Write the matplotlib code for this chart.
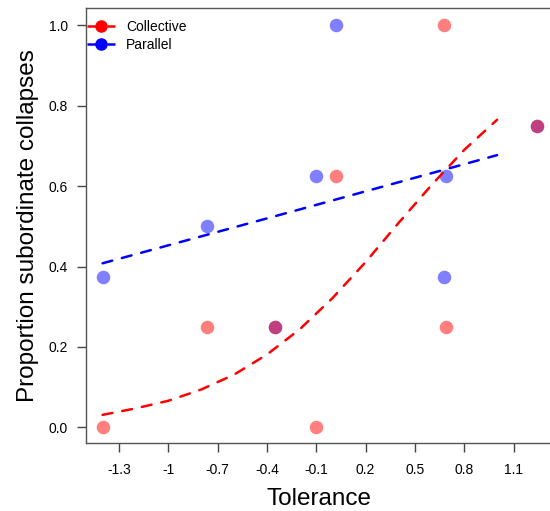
import numpy as np
import matplotlib
matplotlib.use('Agg')
import matplotlib.pyplot as plt
from matplotlib.lines import Line2D

plt.rcParams['font.family'] = ['Liberation Sans', 'DejaVu Sans']

# Observed proportions per tolerance value
tolerance = [-1.397, -0.765, -0.354, -0.100, 0.018, 0.677, 0.689, 1.243]
collective = [0.0, 0.25, 0.25, 0.0, 0.625, 1.0, 0.25, 0.75]
parallel = [0.375, 0.5, 0.25, 0.625, 1.0, 0.375, 0.625, 0.75]

# Fitted curves
fit_x_coll = [-1.40, -1.20, -1.00, -0.80, -0.60, -0.40, -0.20, 0.00, 0.20, 0.40, 0.60, 0.80, 1.00]
fit_y_coll = [0.031, 0.047, 0.066, 0.094, 0.131, 0.181, 0.244, 0.322, 0.411, 0.508, 0.602, 0.690, 0.765]
fit_x_par = [-1.40, -0.20, 1.00]
fit_y_par = [0.408, 0.542, 0.677]

xticks = [-1.3, -1, -0.7, -0.4, -0.1, 0.2, 0.5, 0.8, 1.1]
xtick_labels = ['-1.3', '-1', '-0.7', '-0.4', '-0.1', '0.2', '0.5', '0.8', '1.1']
yticks = [0.0, 0.2, 0.4, 0.6, 0.8, 1.0]

fig = plt.figure(figsize=(5.5, 5.11), dpi=100)
ax = fig.add_axes([86/550, 68/511, 466/550, 435/511])

ax.scatter(tolerance, parallel, s=95, color='blue', alpha=0.5, linewidths=0, zorder=3)
ax.scatter(tolerance, collective, s=95, color='red', alpha=0.5, linewidths=0, zorder=4)

ax.plot(fit_x_coll, fit_y_coll, color='red', lw=1.8, dashes=(4, 4),
        dash_capstyle='round', zorder=5)
ax.plot(fit_x_par, fit_y_par, color='blue', lw=1.8, dashes=(4, 4),
        dash_capstyle='round', zorder=5)

ax.set_xlim(-1.5007, 1.334)
ax.set_ylim(-0.039, 1.043)

ax.set_xticks(xticks)
ax.set_xticklabels(xtick_labels)
ax.set_yticks(yticks)
ax.set_yticklabels([f'{v:.1f}' for v in yticks])
ax.tick_params(direction='out', length=6.5, width=1, color='#444444',
               labelsize=10, pad=6.5)
ax.tick_params(axis='x', pad=8)
for sp in ax.spines.values():
    sp.set_color('#555555')
    sp.set_linewidth(1)
ax.spines['right'].set_visible(False)  # sits just past the image edge

ax.set_xlabel('Tolerance', fontsize=17.5, labelpad=7.5)
ax.set_ylabel('Proportion subordinate collapses', fontsize=17.5, labelpad=7)

handles = [
    Line2D([], [], color='red', lw=1.8, dashes=(4, 4), marker='o', markersize=8),
    Line2D([], [], color='blue', lw=1.8, dashes=(4, 4), marker='o', markersize=8),
]
ax.legend(handles, ['Collective', 'Parallel'], loc='upper left', frameon=False,
          fontsize=10, handlelength=2.0, handletextpad=0.8, labelspacing=0.3,
          borderaxespad=0.2, borderpad=0.3, bbox_to_anchor=(-0.013, 0.989))

fig.savefig('out.png', dpi=100)
